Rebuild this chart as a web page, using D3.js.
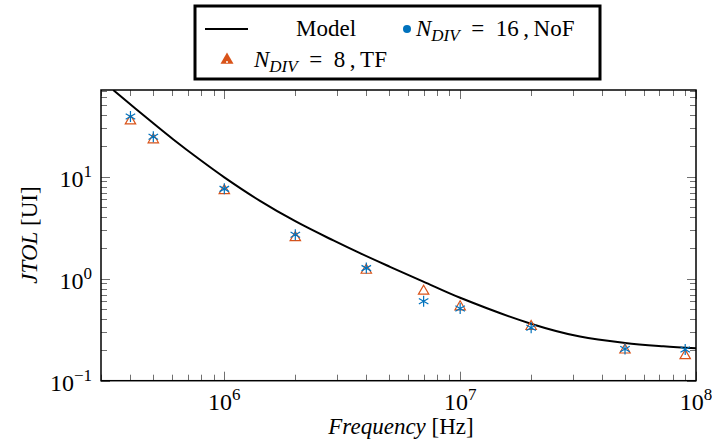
<!DOCTYPE html>
<html><head><meta charset="utf-8">
<script src="https://cdn.jsdelivr.net/npm/d3@7"></script>
<style>body{margin:0;background:#fff}svg{display:block}</style>
</head><body>
<script>
// ---- data ----
const modelFreq = [3.38e5, 5e5, 6.08e5, 7.89e5, 1e6, 1.417e6, 2.008e6, 2.9e6, 3.76e6, 5.04e6, 6.98e6, 1e7, 2.01e7, 3.22e7, 5e7, 7.27e7, 1e8];
const modelVal  = [70.8, 33.4, 23.2, 14.65, 9.86, 5.80, 3.64, 2.37, 1.778, 1.308, 0.937, 0.650, 0.360, 0.2706, 0.2342, 0.2175, 0.2077];
const measFreq  = [4e5, 5e5, 1e6, 2e6, 4e6, 7e6, 1e7, 2e7, 5e7, 9e7];
const nof16     = [39, 24.6, 7.6, 2.7, 1.27, 0.60, 0.51, 0.33, 0.205, 0.202];
const tf8       = [35.3, 23.0, 7.3, 2.53, 1.21, 0.754, 0.53, 0.34, 0.20, 0.176];
const xTickExp  = [6, 7, 8];
const yTickExp  = [-1, 0, 1];
const legendLabels = ["Model", "16\u2009,\u2009NoF", "8\u2009,\u2009TF"];

const W = 712, H = 441;
const m = {left: 101, right: 696, top: 90, bottom: 380.7};
const blue = "#0072BD", orange = "#D95319";
const FONT = "'Liberation Serif', 'DejaVu Serif', 'Times New Roman', serif";

const svg = d3.select("body").append("svg").attr("width", W).attr("height", H)
  .attr("font-family", FONT);
const x = d3.scaleLog().domain([3e5, 1e8]).range([m.left, m.right]);
const y = d3.scaleLog().domain([0.1, 70.8]).range([m.bottom, m.top]);

svg.append("clipPath").attr("id", "clip").append("rect")
  .attr("x", m.left).attr("y", m.top).attr("width", m.right - m.left).attr("height", m.bottom - m.top);

// ticks (all four sides, inward)
const tickCol = "#707070";
function minorVals(dom) {
  const out = [];
  const lo = Math.floor(Math.log10(dom[0])), hi = Math.ceil(Math.log10(dom[1]));
  for (let e = lo; e <= hi; e++) for (let k = 1; k <= 9; k++) {
    const v = k * Math.pow(10, e);
    if (v >= dom[0] * 0.999 && v <= dom[1] * 1.001) out.push({v, major: k === 1});
  }
  return out;
}
const tg = svg.append("g").attr("stroke", tickCol).attr("stroke-width", 1);
minorVals(x.domain()).forEach(d => {
  const L = d.major ? 9 : 6, px = Math.round(x(d.v)) + 0.5;
  tg.append("line").attr("x1", px).attr("x2", px).attr("y1", m.bottom).attr("y2", m.bottom - L);
  tg.append("line").attr("x1", px).attr("x2", px).attr("y1", m.top).attr("y2", m.top + L);
});
minorVals(y.domain()).forEach(d => {
  const L = d.major ? 9 : 6, py = Math.round(y(d.v)) + 0.5;
  tg.append("line").attr("x1", m.left).attr("x2", m.left + L).attr("y1", py).attr("y2", py);
  tg.append("line").attr("x1", m.right).attr("x2", m.right - L).attr("y1", py).attr("y2", py);
});

// frame
svg.append("rect").attr("x", m.left).attr("y", m.top).attr("width", m.right - m.left).attr("height", m.bottom - m.top)
  .attr("fill", "none").attr("stroke", "#000").attr("stroke-width", 1.5);

// tick labels
function powLabel(sel, e) {
  sel.append("tspan").text("10");
  sel.append("tspan").attr("dy", -10).attr("font-size", 17).text(e < 0 ? "\u2212" + (-e) : String(e));
}
xTickExp.forEach(e => {
  const t = svg.append("text").attr("x", x(Math.pow(10, e))).attr("y", 410).attr("text-anchor", "middle").attr("font-size", 24);
  powLabel(t, e);
});
yTickExp.forEach(e => {
  const t = svg.append("text").attr("x", 92).attr("y", y(Math.pow(10, e)) + 10).attr("text-anchor", "end").attr("font-size", 24);
  powLabel(t, e);
});

// axis labels
const xl = svg.append("text").attr("x", 401).attr("y", 434).attr("text-anchor", "middle").attr("font-size", 23);
xl.append("tspan").attr("font-style", "italic").text("Frequency");
xl.append("tspan").text(" [Hz]");
const yl = svg.append("text").attr("transform", "translate(37,235) rotate(-90)").attr("text-anchor", "middle").attr("font-size", 23);
yl.append("tspan").attr("font-style", "italic").text("JTOL");
yl.append("tspan").text(" [UI]");

// model line
const model = modelFreq.map((f, i) => [f, modelVal[i]]);
svg.append("path").attr("clip-path", "url(#clip)")
  .attr("d", d3.line().x(d => x(d[0])).y(d => y(d[1])).curve(d3.curveCatmullRom.alpha(0.5))(model))
  .attr("fill", "none").attr("stroke", "#000").attr("stroke-width", 2);

// markers
function triPath(r) {
  return `M0,${-r}L${r * 0.866},${r * 0.5}L${-r * 0.866},${r * 0.5}Z`;
}
function starPath(r) {
  const c = r * Math.cos(Math.PI / 6), s = r * Math.sin(Math.PI / 6);
  return `M0,${-r}L0,${r}M${c},${-s}L${-c},${s}M${c},${s}L${-c},${-s}`;
}
svg.append("g").selectAll("path").data(measFreq.map((f, i) => [f, tf8[i]])).join("path")
  .attr("transform", d => `translate(${x(d[0])},${y(d[1])})`)
  .attr("d", triPath(6)).attr("fill", "none").attr("stroke", orange).attr("stroke-width", 1.2);
svg.append("g").selectAll("path").data(measFreq.map((f, i) => [f, nof16[i]])).join("path")
  .attr("transform", d => `translate(${x(d[0])},${y(d[1])})`)
  .attr("d", starPath(5.5)).attr("fill", "none").attr("stroke", blue).attr("stroke-width", 1.2);

// legend
const lg = svg.append("g");
lg.append("rect").attr("x", 195).attr("y", 6).attr("width", 405).attr("height", 73)
  .attr("fill", "#fff").attr("stroke", "#000").attr("stroke-width", 3);
lg.append("line").attr("x1", 205).attr("x2", 248).attr("y1", 29).attr("y2", 29).attr("stroke", "#000").attr("stroke-width", 2);
lg.append("text").attr("x", 326).attr("y", 36).attr("text-anchor", "middle").attr("font-size", 23).text(legendLabels[0]);
lg.append("circle").attr("cx", 407).attr("cy", 29).attr("r", 4).attr("fill", blue);
function nLabel(xp, yp, rest) {
  const t = lg.append("text").attr("x", xp).attr("y", yp).attr("font-size", 23);
  t.append("tspan").attr("font-style", "italic").text("N");
  t.append("tspan").attr("font-style", "italic").attr("font-size", 17).attr("dy", 5).text("DIV");
  t.append("tspan").attr("dy", -5).text("\u2002=\u2002" + rest);
}
nLabel(416, 36, legendLabels[1]);
lg.append("path").attr("transform", "translate(227,60)").attr("d", triPath(7.5)).attr("fill", orange);
lg.append("circle").attr("cx", 227).attr("cy", 62).attr("r", 1).attr("fill", "#fff");
nLabel(254, 67, legendLabels[2]);
</script>
</body></html>
